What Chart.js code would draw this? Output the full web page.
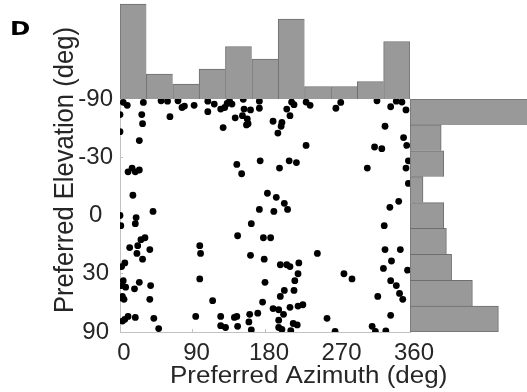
<!DOCTYPE html>
<html>
<head>
<meta charset="utf-8">
<script src="https://cdn.jsdelivr.net/npm/chart.js@4.4.1/dist/chart.umd.min.js"></script>
<style>
  body { margin: 0; background: #fff; }
  #wrap { position: relative; width: 527px; height: 392px; }
  canvas { position: absolute; }
</style>
</head>
<body>
<div id="wrap">
  <canvas id="scatter" width="527" height="392" style="left:0;top:0"></canvas>
  <canvas id="topHist" width="290" height="99" style="left:120px;top:0"></canvas>
  <canvas id="rightHist" width="117" height="233" style="left:410px;top:99px"></canvas>
</div>
<script>
const panelLabel = "D";
const xTitle = "Preferred Azimuth (deg)";
const yTitle = "Preferred Elevation (deg)";
const azTicks = [0, 90, 180, 270, 360];
const elTicks = [-90, -30, 0, 30, 90];

// preferred azimuth / elevation of each unit (deg)
const azimuth = [
  4, 9, 29, 51, 59, 72, 77, 80, 92, 109, 109, 117, 125, 130, 133, 136, 139, 153, 154, 162, 173, 173,
  0, 27, 28, 62, 143, 152, 158, 159, 157, 128, 0, 24, 145, 151, 174, 10, 15, 19, 24, 16, 183, 0, 20, 41, 173,
  213, 216, 231, 236, 207, 211, 274, 268, 319, 343, 350, 336, 355,
  190, 201, 200, 196, 329, 352, 356, 231, 316, 325,
  210, 219, 198, 307, 358, 355, 358, 194, 204, 208, 191, 346, 335,
  1, 19, 163, 146, 26, 31, 22, 12, 21, 37, 28, 99, 100, 162, 6, 2, 4, 2, 7, 18, 24, 38, 99,
  0, 3, 5, 37, 115, 3, 6, 10, 19, 42, 48, 94, 125, 125, 131, 142, 145, 146, 161, 171, 160, 163,
  328, 178, 187, 179, 245, 329, 348, 337, 327, 357, 199, 207, 211, 222, 221, 180, 217, 278, 288,
  336, 343, 347, 351, 320, 204, 216, 199, 177, 190, 197, 203, 211, 221, 227, 197, 197, 201, 215,
  220, 212, 257, 267, 313, 317, 330, 336
];
const elevation = [
  -76, -71, -76, -80, -79, -80, -68, -70, -71, -79, -63, -73, -66, -68, -74, -79, -73, -86, -66, -65, -79, -67,
  -60, -60, -52, -58, -57, -59, -56, -52, -51, -49, -46, -40, -26, -21, -28, -22, -24, -22, -23, -10, -11, 0, 1, -2, -3,
  -77, -72, -77, -71, -66, -59, -76, -67, -80, -79, -77, -69, -65,
  -54, -53, -50, -45, -50, -42, -37, -37, -36, -35,
  -28, -27, -24, -24, -28, -24, -16, -9, -6, -3, -2, -7, -4,
  5, 4, 4, 10, 12, 11, 15, 16, 19, 17, 22, 15, 19, 20, 24, 26, 34, 37, 38, 39, 35, 37, 33,
  45, 44, 46, 46, 47, 65, 63, 60, 61, 62, 76, 60, 60, 71, 74, 61, 60, 72, 58, 57, 66, 79,
  5, 11, 11, 22, 19, 17, 17, 23, 27, 28, 25, 25, 26, 24, 30, 35, 34, 30, 33,
  34, 37, 42, 46, 44, 40, 40, 44, 48, 53, 54, 58, 52, 51, 50, 64, 74, 78, 68,
  70, 81, 62, 84, 72, 84, 82, 59
];

// marginal histograms (counts)
const azBins = ["0-33", "33-65", "65-98", "98-131", "131-164", "164-196", "196-229", "229-262", "262-295", "295-327", "327-360"];
const azCounts = [38, 10, 6, 12, 21, 16, 32, 5, 5, 7, 23];
const elBins = ["-90", "-51", "-34", "-19", "-6", "6", "19", "34", "51"];
const elCounts = [47, 12, 13, 5, 13, 14, 16, 24, 34];

const rad = Math.PI / 180;
const family = '"Liberation Sans", Arial, Helvetica, sans-serif';
const textColor = "#262626";
const axisGray = "#c2c2c2";
const barFill = "#999999";
const barEdge = "#6e6e6e";

// axis titles and panel letter (the source text is a little wider than Liberation Sans)
const axisTitles = {
  id: "axisTitles",
  afterDraw(chart) {
    const ctx = chart.ctx;
    ctx.save();
    ctx.fillStyle = textColor;
    ctx.textBaseline = "alphabetic";
    ctx.textAlign = "left";
    ctx.font = "23px " + family;
    ctx.translate(170, 383);
    ctx.scale(1.13, 1);
    ctx.fillText(xTitle, 0, 0);
    ctx.restore();

    ctx.save();
    ctx.fillStyle = textColor;
    ctx.textAlign = "left";
    ctx.font = "25.6px " + family;
    ctx.translate(73, 313);
    ctx.rotate(-Math.PI / 2);
    ctx.scale(1, 1.09);
    ctx.fillText(yTitle, 0, 0);
    ctx.restore();

    ctx.save();
    ctx.fillStyle = "#000";
    ctx.font = 'bold 20px "DejaVu Sans", ' + family;
    ctx.translate(10, 34.5);
    ctx.scale(1.22, 1);
    ctx.fillText(panelLabel, 0, 0);
    ctx.restore();
  }
};

new Chart(document.getElementById("scatter"), {
  type: "scatter",
  data: {
    datasets: [
      {
        data: azimuth.map((a, i) => ({ x: a, y: Math.sin(elevation[i] * rad) })),
        backgroundColor: "#000",
        borderWidth: 0,
        pointRadius: 3.4,
        pointHoverRadius: 3.4,
      },
    ],
  },
  options: {
    responsive: false,
    animation: false,
    events: [],
    layout: { padding: { top: 99, right: 117, left: 0, bottom: 0 } },
    plugins: { legend: { display: false }, tooltip: { enabled: false } },
    scales: {
      x: {
        type: "linear",
        min: 0,
        max: 360,
        afterBuildTicks: (s) => { s.ticks = azTicks.map((v) => ({ value: v })); },
        afterFit: (s) => { s.height = 60; },
        grid: { drawOnChartArea: false, tickLength: -3, color: axisGray },
        border: { color: axisGray, width: 1 },
        ticks: {
          font: { size: 24, family: family },
          color: textColor,
          padding: 9.6,
          labelOffset: 4,
          maxRotation: 0,
          autoSkip: false,
        },
      },
      y: {
        type: "linear",
        min: -1,
        max: 1,
        reverse: true,
        afterBuildTicks: (s) => { s.ticks = elTicks.map((v) => ({ value: Math.sin(v * rad) })); },
        afterFit: (s) => { s.width = 120; },
        grid: { drawOnChartArea: false, tickLength: -3, color: axisGray },
        border: { color: axisGray, width: 1 },
        ticks: {
          font: { size: 24, family: family },
          color: textColor,
          padding: 10,
          crossAlign: "center",
          autoSkip: false,
          callback: (value, index) => elTicks[index],
        },
      },
    },
  },
  plugins: [axisTitles],
});

new Chart(document.getElementById("topHist"), {
  type: "bar",
  data: {
    labels: azBins,
    datasets: [
      {
        data: azCounts,
        backgroundColor: barFill,
        borderColor: barEdge,
        borderSkipped: false,
        borderWidth: (c) => ({ top: 1, left: 1, bottom: 0, right: c.dataIndex === azCounts.length - 1 ? 1 : 0 }),
        barPercentage: 1,
        categoryPercentage: 1,
      },
    ],
  },
  options: {
    responsive: false,
    animation: false,
    events: [],
    layout: { padding: 0 },
    plugins: { legend: { display: false }, tooltip: { enabled: false } },
    scales: {
      x: { display: false },
      y: { display: false, min: 0, max: 39.6 },
    },
  },
});

new Chart(document.getElementById("rightHist"), {
  type: "bar",
  data: {
    labels: elBins,
    datasets: [
      {
        data: elCounts,
        backgroundColor: barFill,
        borderColor: barEdge,
        borderSkipped: false,
        borderWidth: (c) => ({ top: 1, left: 1, right: 1, bottom: c.dataIndex === elCounts.length - 1 ? 1 : 0 }),
        barPercentage: 1,
        categoryPercentage: 1,
      },
    ],
  },
  options: {
    indexAxis: "y",
    responsive: false,
    animation: false,
    events: [],
    layout: { padding: 0 },
    plugins: { legend: { display: false }, tooltip: { enabled: false } },
    scales: {
      x: { display: false, min: 0, max: 45 },
      y: { display: false },
    },
  },
});
</script>
</body>
</html>
